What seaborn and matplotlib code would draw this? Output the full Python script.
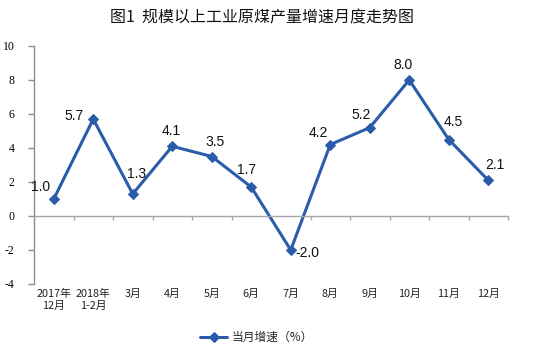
import matplotlib
matplotlib.use("Agg")
import matplotlib.pyplot as plt
import matplotlib.transforms as mtransforms
import seaborn as sns
import pandas as pd

# data
months = ["2017年\n12月", "2018年\n1-2月", "3月", "4月", "5月", "6月",
          "7月", "8月", "9月", "10月", "11月", "12月"]
growth = [1.0, 5.7, 1.3, 4.1, 3.5, 1.7, -2.0, 4.2, 5.2, 8.0, 4.5, 2.1]
yticks = list(range(-4, 11, 2))
# label offsets in pixels (dx, dy) relative to each point
label_offsets = [(-13, 12), (-19, 3), (4, 20), (-1, 15), (3, 14), (-5, 17),
                 (17, -3), (-12, 12), (-9, 13), (-6, 15), (5, 17), (7, 15)]

title = "图1  规模以上工业原煤产量增速月度走势图"
series_name = "当月增速（%）"

sns.set_theme(style="white")
plt.rcParams["font.family"] = ["Noto Sans CJK SC", "DejaVu Sans"]

df = pd.DataFrame({"idx": range(len(months)), "val": growth})

fig = plt.figure(figsize=(5.35, 3.53), dpi=100)
ax = fig.add_axes([34 / 535, 1 - 284 / 353, (508 - 34) / 535, (284 - 46) / 353])

line_color = "#2A5CAA"
sns.lineplot(data=df, x="idx", y="val", ax=ax, color=line_color, linewidth=2.2,
             marker="D", markersize=5.5, markeredgecolor=line_color,
             label=series_name)

ax.set_xlim(-0.5, len(months) - 0.5)
ax.set_ylim(-4, 10)
ax.set_yticks(yticks)
ax.set_yticklabels([str(v) for v in yticks], fontfamily=["Liberation Serif"],
                   fontsize=8.5, color="black")
ax.set_xlabel("")
ax.set_ylabel("")

for s in ["top", "right"]:
    ax.spines[s].set_visible(False)
ax.spines["left"].set_color("#8C8C8C")
ax.spines["left"].set_linewidth(1.0)
ax.spines["bottom"].set_position(("data", 0))
ax.spines["bottom"].set_color("#A6A6A6")
ax.spines["bottom"].set_linewidth(1.0)

ax.tick_params(axis="y", direction="out", length=4, width=1, color="#8C8C8C",
               left=True, pad=10)

# category boundary ticks on the zero line
ax.set_xticks([i - 0.5 for i in range(1, len(months) + 1)], minor=True)
ax.set_xticks([])
ax.tick_params(axis="x", which="minor", direction="out", length=3, width=1,
               color="#A6A6A6", bottom=True)

# category labels below the plot area
trans = mtransforms.blended_transform_factory(ax.transData, ax.transAxes)
for i, m in enumerate(months):
    ax.text(i, -0.02, m, transform=trans, ha="center", va="top",
            fontsize=7.8, linespacing=1.25, color="#222222")

# value labels
for i, (v, off) in enumerate(zip(growth, label_offsets)):
    ax.annotate(f"{v:.1f}", (i, v), xytext=off, textcoords="offset pixels",
                ha="center", va="center", fontsize=10,
                fontfamily=["Liberation Sans"], color="#111111")

fig.text(262 / 535, 1 - 18 / 353, title, ha="center", va="center",
         fontsize=11.5, fontweight="medium", color="#111111")

ax.legend(loc="center", bbox_to_anchor=(0.47, -0.225), frameon=False,
          fontsize=8.5, handlelength=2.3, handletextpad=0.4)

fig.savefig("out.png", dpi=100)
